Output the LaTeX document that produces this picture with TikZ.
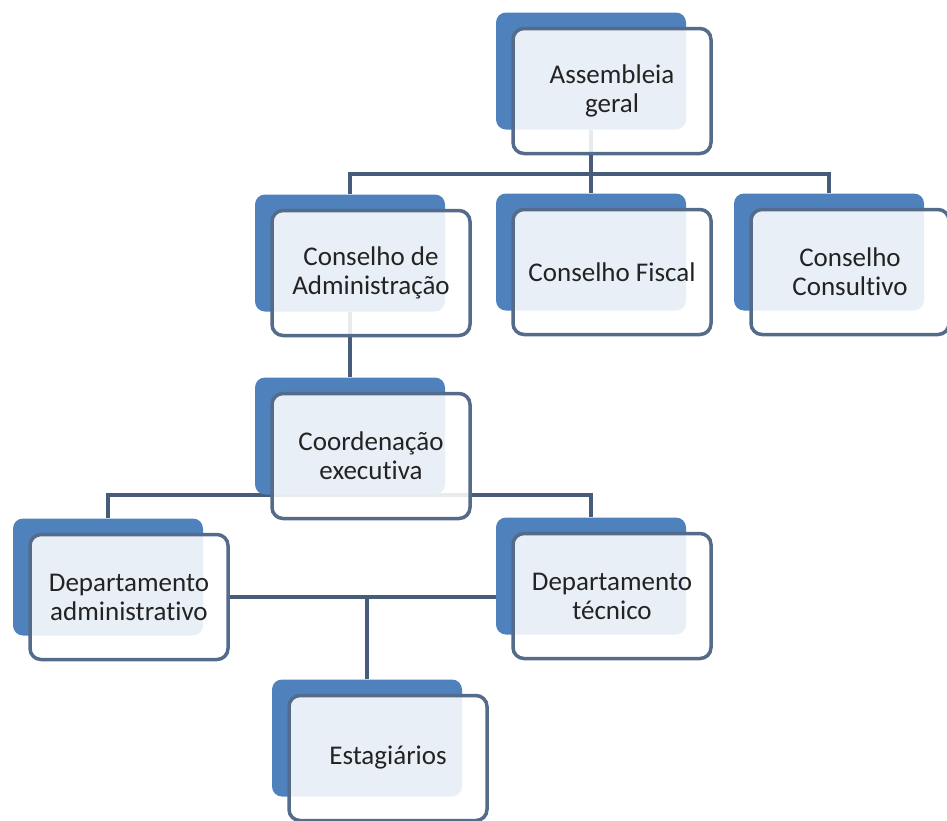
\documentclass[tikz,border=0pt]{standalone}
\usepackage{fontspec}
\setmainfont{Carlito}[Ligatures=NoCommon]
\usetikzlibrary{backgrounds}

\definecolor{azul}{RGB}{79,129,189}
\definecolor{borda}{RGB}{84,108,138}
\definecolor{linhacor}{RGB}{70,92,120}
\definecolor{texto}{RGB}{35,35,35}

\tikzset{
  fundo/.style={fill=azul, rounded corners=10pt, minimum width=190pt, minimum height=117pt, inner sep=0pt},
  cartao/.style={fill=white, fill opacity=0.88, text opacity=1, draw=borda, line width=3.5pt,
    rounded corners=11pt, minimum width=198pt, minimum height=125pt, inner sep=0pt,
    align=center, text=texto, font=\fontsize{27}{29}\selectfont},
  linha/.style={draw=linhacor, line width=4pt}
}

\begin{document}
\begin{tikzpicture}[x=1pt, y=-1pt]
  \useasboundingbox (0,0) rectangle (947,820);

  \foreach \nome/\x/\y/\texto in {
    ag/591/71/{Assembleia\\geral},
    cadm/350/253/{Conselho de\\Administração},
    cfis/591/252/{Conselho Fiscal},
    ccon/829/252/{Conselho\\Consultivo},
    coord/350/436/{Coordenação\\executiva},
    dadm/108/577/{Departamento\\administrativo},
    dtec/591/576/{Departamento\\técnico},
    estag/367/738/{Estagiários}}
  {
    \node[fundo] (\nome) at (\x,\y) {};
    \node[cartao] (\nome-t) at (\x+21,\y+20) {\texto};
  }

  \begin{scope}[on background layer]
    \draw[linha] (ag.south) -- ++(0,44) coordinate (b1);
    \draw[linha] (cadm.north) |- (b1) -| (ccon.north);
    \draw[linha] (b1) -- (cfis.north);
    \draw[linha] (cadm.south) -- (coord.north);
    \draw[linha] (dadm.north) |- (coord.south) -| (dtec.north);
    \draw[linha] (dadm-t.east) -- (dadm-t.east -| dtec-t.west);
    \draw[linha] (estag.north) -- (estag.north |- dadm-t.east);
  \end{scope}
\end{tikzpicture}
\end{document}
